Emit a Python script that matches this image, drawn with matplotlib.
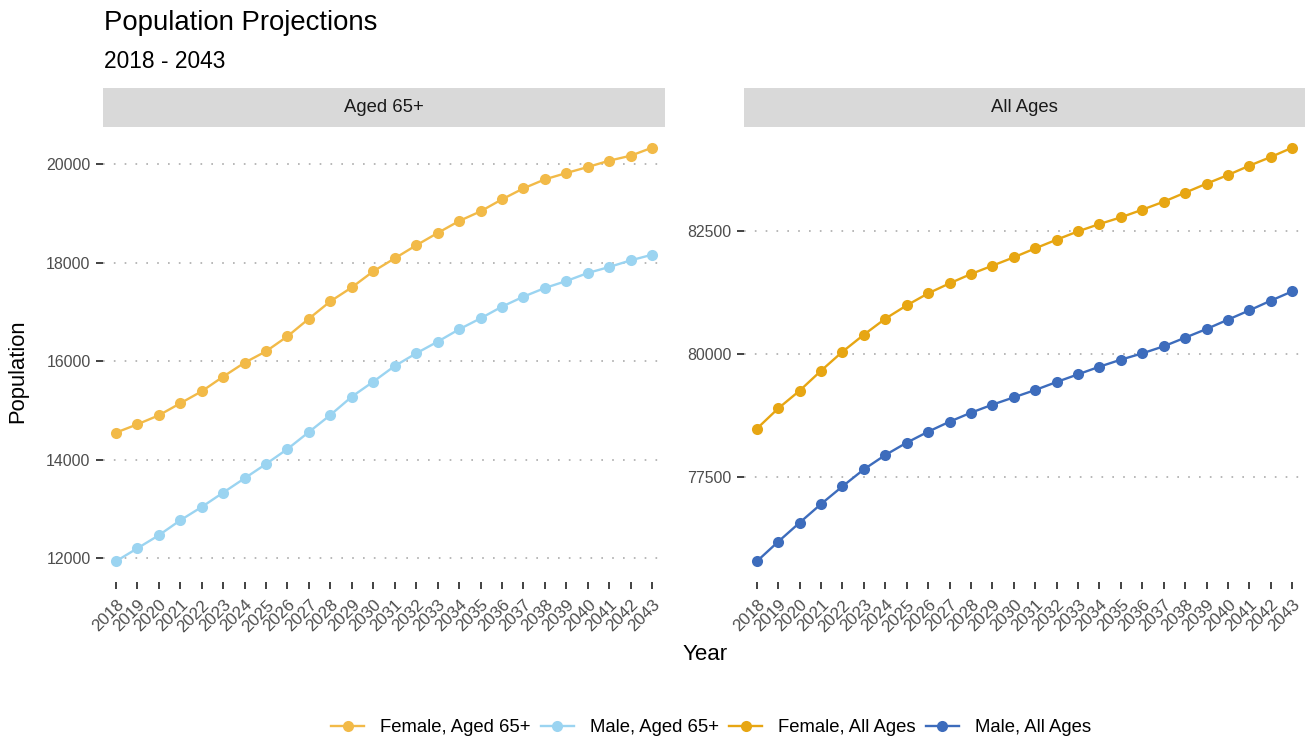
import matplotlib
matplotlib.use("Agg")
import matplotlib.pyplot as plt

plt.rcParams['font.family'] = ['Liberation Sans', 'DejaVu Sans']

years = list(range(2018, 2044))

female_65 = [14547, 14716, 14899, 15143, 15387, 15685, 15969, 16200, 16505, 16864,
             17216, 17500, 17826, 18090, 18354, 18605, 18848, 19045, 19289, 19512,
             19695, 19824, 19946, 20075, 20176, 20339]
male_65 = [11932, 12196, 12461, 12765, 13036, 13328, 13619, 13910, 14215, 14560,
           14906, 15279, 15583, 15902, 16159, 16396, 16647, 16870, 17108, 17311,
           17487, 17629, 17792, 17914, 18049, 18164]
female_all = [78489, 78902, 79262, 79668, 80054, 80400, 80725, 80996, 81240, 81443,
              81633, 81802, 81972, 82154, 82331, 82500, 82649, 82785, 82940, 83103,
              83286, 83469, 83645, 83835, 84011, 84201]
male_all = [75793, 76193, 76579, 76958, 77317, 77663, 77954, 78205, 78428, 78631,
            78814, 78977, 79126, 79275, 79438, 79594, 79749, 79892, 80020, 80163,
            80339, 80515, 80705, 80894, 81091, 81280]

panel_titles = ["Aged 65+", "All Ages"]
series_labels = ["Female, Aged 65+", "Male, Aged 65+", "Female, All Ages", "Male, All Ages"]
colors = ["#F2BA48", "#9BD4F1", "#E7A613", "#3D6CBC"]
left_yticks = [12000, 14000, 16000, 18000, 20000]
right_yticks = [77500, 80000, 82500]

W, H = 1314, 740
fig = plt.figure(figsize=(W / 100, H / 100), dpi=100)

def fx(px):
    return px / W

def fy(py):
    return 1 - py / H

panel_top, panel_bot = 127, 582
strip_top = 88
panels_x = [(103, 665), (744, 1305)]

axes = []
for i, (x0, x1) in enumerate(panels_x):
    ax = fig.add_axes([fx(x0), fy(panel_bot), fx(x1 - x0), (panel_bot - panel_top) / H])
    axes.append(ax)
    sax = fig.add_axes([fx(x0), fy(panel_top), fx(x1 - x0), (panel_top - strip_top) / H])
    sax.set_facecolor("#D9D9D9")
    sax.set_xticks([]); sax.set_yticks([])
    for s in sax.spines.values():
        s.set_visible(False)
    sax.text(0.5, 0.5, panel_titles[i], ha="center", va="center",
             fontsize=13.3, color="#1A1A1A", transform=sax.transAxes)

series_sets = [[(female_65, 0), (male_65, 1)], [(female_all, 2), (male_all, 3)]]
yticks_sets = [left_yticks, right_yticks]
handles = []
for ax, sers, yt in zip(axes, series_sets, yticks_sets):
    for vals, idx in sers:
        ln, = ax.plot(years, vals, color=colors[idx], lw=1.7, marker="o", ms=8,
                      markeredgewidth=0, zorder=3, label=series_labels[idx])
        handles.append(ln)
    ax.set_xlim(years[0] - 0.6, years[-1] + 0.6)
    ax.margins(y=0.05)
    ax.set_yticks(yt)
    ax.set_yticklabels([str(v) for v in yt])
    ax.set_xticks(years)
    ax.set_xticklabels([str(y) for y in years], rotation=45, ha="right", va="top",
                       rotation_mode="anchor")
    ax.grid(axis="y", color="#ABABAB", lw=1.2, linestyle=(0, (1.0, 5.5)), zorder=0)
    ax.grid(axis="x", visible=False)
    for s in ax.spines.values():
        s.set_visible(False)
    ax.tick_params(axis="both", colors="#333333", labelcolor="#4D4D4D",
                   length=5, width=1.3)
    ax.tick_params(axis="y", pad=4, labelsize=11.4)
    ax.tick_params(axis="x", pad=6, labelsize=12.2)
    ax.set_facecolor("white")

fig.text(fx(104), fy(23), "Population Projections", fontsize=19.8, ha="left", va="center",
         color="black")
fig.text(fx(104), fy(61), "2018 - 2043", fontsize=16.4, ha="left", va="center",
         color="black")
fig.text(fx(18), fy(371), "Population", fontsize=15.8, rotation=90, ha="center",
         va="center", color="black")
fig.text(fx(705), fy(654), "Year", fontsize=16, ha="center", va="center", color="black")

fig.legend(handles=handles, labels=series_labels, loc="center", ncol=4,
           bbox_to_anchor=(fx(711), fy(728)), frameon=False, fontsize=13.3,
           handlelength=1.8, handletextpad=0.85, columnspacing=0.55)

fig.savefig("out.png", dpi=100, facecolor="white")
